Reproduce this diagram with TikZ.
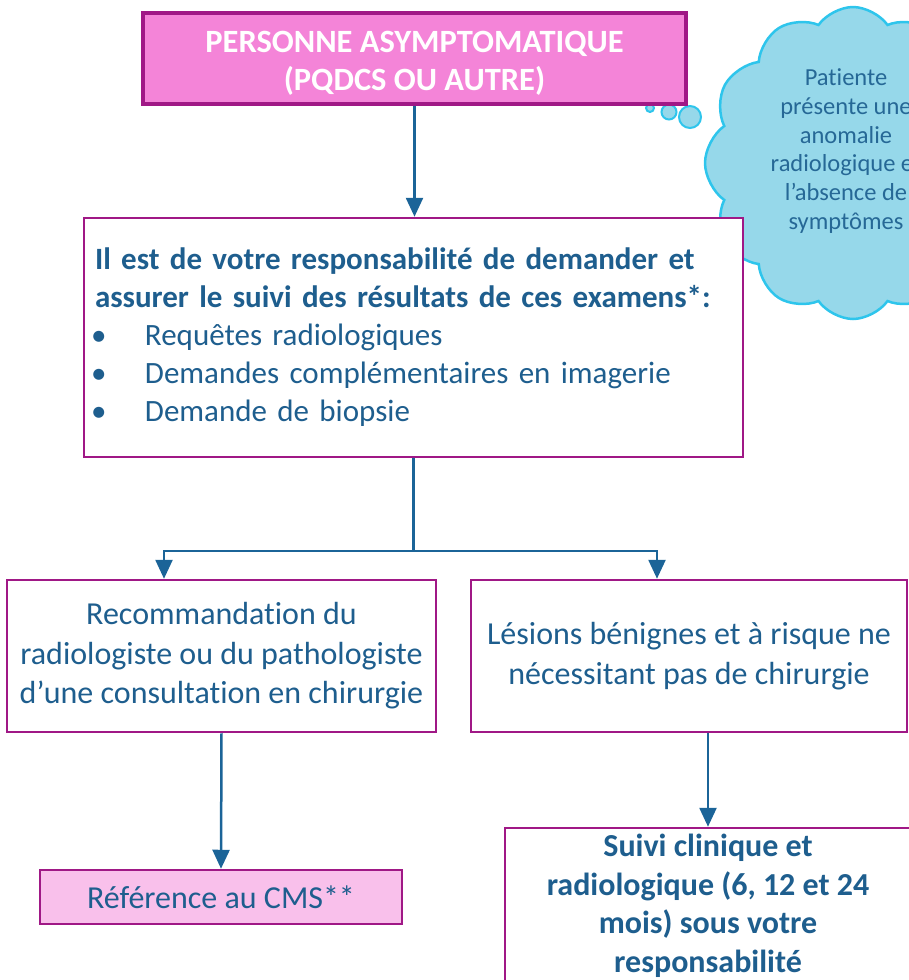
\documentclass[tikz,border=0pt]{standalone}
\usepackage{fontspec}
\setmainfont{Carlito}[Ligatures={NoCommon}]
\usetikzlibrary{arrows.meta,shapes.symbols,calc}
\definecolor{pinkfill}{RGB}{244,132,216}
\definecolor{lightpink}{RGB}{249,192,235}
\definecolor{bordercol}{RGB}{160,24,134}
\definecolor{textblue}{RGB}{30,94,142}
\definecolor{cloudtextcol}{RGB}{38,104,150}
\definecolor{arrowblue}{RGB}{27,100,152}
\definecolor{cloudfill}{RGB}{150,216,234}
\definecolor{cloudline}{RGB}{46,197,236}
\begin{document}
\begin{tikzpicture}[x=1pt,y=-1pt,
  box/.style={draw=bordercol,line width=2.5pt,fill=white,inner sep=0pt,text=textblue,align=center,font=\fontsize{32}{39.5}\selectfont},
  conn/.style={draw=arrowblue,line width=2.5pt},
  arr/.style={conn,-{Triangle[width=17pt,length=19pt]}},
  bubble/.style={draw=cloudline,line width=2.5pt,fill=cloudfill}]
\useasboundingbox (0,0) rectangle (908,980);
% cloud
\node[cloud,cloud puffs=12,cloud puff arc=110,aspect=0.95,bubble,minimum width=296pt,minimum height=312pt,inner sep=0pt] (cloud) at (853,163) {};
\node[text=cloudtextcol,align=center,inner sep=0pt,font=\fontsize{24.5}{28.8}\selectfont] (cloudtext) at (846,151)
  {Patiente\\présente une\\anomalie\\radiologique et\\l’absence de\\symptômes};
\node[circle,bubble,line width=2pt,minimum size=8pt,inner sep=0pt] (b1) at (650,108) {};
\node[circle,bubble,line width=2pt,minimum size=15pt,inner sep=0pt] (b2) at (669,112) {};
\node[circle,bubble,line width=2pt,minimum size=22pt,inner sep=0pt] (b3) at (690,117) {};
% boxes
\node[box,fill=pinkfill,line width=3.5pt,text=white,font=\bfseries\fontsize{32.5}{38}\selectfont,
  minimum width=543pt,minimum height=91pt] (top) at (414.5,58.5)
  {\rule{0pt}{31pt}PERSONNE ASYMPTOMATIQUE\\(PQDCS OU AUTRE)};
\node[box,minimum width=659pt,minimum height=239pt,text width=637pt,align=left,
  font=\fontsize{31}{38}\selectfont] (main) at (413.5,337.5)
  {\textbf{Il est de votre responsabilité de demander et}\\
   \textbf{assurer le suivi des résultats de ces examens*:}\\
   \makebox[50pt][l]{\hspace{-4pt}\textbullet}Requêtes radiologiques\\
   \makebox[50pt][l]{\hspace{-4pt}\textbullet}Demandes complémentaires en imagerie\\
   \makebox[50pt][l]{\hspace{-4pt}\textbullet}Demande de biopsie};
\node[box,minimum width=429pt,minimum height=152pt] (left) at (221.5,656)
  {Recommandation du\\radiologiste ou du pathologiste\\d’une consultation en chirurgie};
\node[box,minimum width=436pt,minimum height=152pt] (right) at (689,656)
  {Lésions bénignes et à risque ne\\nécessitant pas de chirurgie};
\node[box,fill=lightpink,minimum width=362pt,minimum height=54pt] (ref) at (221,897)
  {Référence au CMS**};
\node[box,minimum width=406pt,minimum height=156pt,font=\bfseries\fontsize{32}{38.5}\selectfont] (suivi) at (708,906)
  {Suivi clinique et\\radiologique (6, 12 et 24\\mois) sous votre\\responsabilité};
% connectors
\draw[arr] (top.south) -- (top.south |- main.north);
\coordinate (j) at (413.5,551);
\draw[conn] (main.south) -- (j);
\draw[arr] (j) -| ([xshift=-57.5pt]left.north);
\draw[arr] (j) -| ([xshift=-32pt]right.north);
\draw[arr] (left.south) -- (ref.north);
\draw[arr] (suivi.north |- right.south) -- (suivi.north);
\end{tikzpicture}
\end{document}
